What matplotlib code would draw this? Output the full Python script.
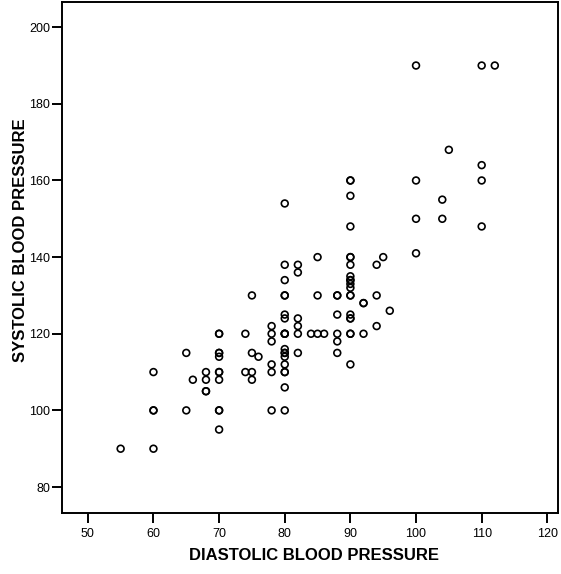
import matplotlib.pyplot as plt

plt.rcParams['font.family'] = ['Liberation Sans', 'DejaVu Sans']

# diastolic / systolic pairs (duplicates = overlapping marks)
diastolic = [
    55, 60, 60, 60, 60, 65, 65, 66, 68, 68, 68, 68,
    70, 70, 70, 70, 70, 70, 70, 70, 70, 70, 70,
    74, 74, 75, 75, 75, 75, 76, 78, 78, 78, 78, 78, 78,
    80, 80, 80, 80, 80, 80, 80, 80, 80, 80, 80, 80, 80, 80, 80, 80, 80, 80, 80,
    82, 82, 82, 82, 82, 82, 84, 85, 85, 85, 86,
    88, 88, 88, 88, 88, 88,
    90, 90, 90, 90, 90, 90, 90, 90, 90, 90, 90, 90, 90, 90, 90, 90, 90, 90, 90, 90,
    92, 92, 92, 94, 94, 94, 95, 96,
    100, 100, 100, 100, 104, 104, 105, 110, 110, 110, 110, 112,
]
systolic = [
    90, 90, 100, 100, 110, 115, 100, 108, 110, 108, 105, 105,
    120, 120, 115, 114, 110, 110, 108, 100, 100, 95, 115,
    120, 110, 130, 115, 110, 108, 114, 122, 120, 118, 112, 110, 100,
    154, 138, 134, 130, 130, 125, 124, 120, 120, 116, 115, 114, 112, 110, 110, 106, 100, 115, 120,
    138, 136, 124, 122, 120, 115, 120, 140, 130, 120, 120,
    130, 125, 120, 118, 115, 130,
    160, 160, 156, 148, 140, 140, 138, 135, 134, 133, 132, 130, 130, 125, 124, 120, 120, 112, 124, 134,
    128, 120, 128, 130, 138, 122, 140, 126,
    190, 160, 150, 141, 155, 150, 168, 190, 164, 160, 148, 190,
]

x_ticks = [50, 60, 70, 80, 90, 100, 110, 120]
y_ticks = [80, 100, 120, 140, 160, 180, 200]

fig = plt.figure(figsize=(5.61, 5.74), dpi=100)
ax = fig.add_axes([0.1109, 0.1068, 0.8846, 0.8892])

ax.scatter(diastolic, systolic, s=24, facecolors='none', edgecolors='black', linewidths=1.2)

ax.set_xlim(46.1, 121.7)
ax.set_ylim(73.3, 206.5)
ax.set_xticks(x_ticks)
ax.set_yticks(y_ticks)
ax.tick_params(direction='out', length=7, width=1.4, labelsize=9)
ax.tick_params(axis='x', pad=4.3)
ax.tick_params(axis='y', pad=1.5)

for sp in ax.spines.values():
    sp.set_linewidth(1.4)

ax.set_xlabel('DIASTOLIC BLOOD PRESSURE', fontsize=12, fontweight='bold')
ax.set_ylabel('SYSTOLIC BLOOD PRESSURE', fontsize=12, fontweight='bold')
ax.xaxis.set_label_coords(0.508, -0.069)
ax.yaxis.set_label_coords(-0.069, 0.5335)

fig.savefig('out.png', dpi=100)
